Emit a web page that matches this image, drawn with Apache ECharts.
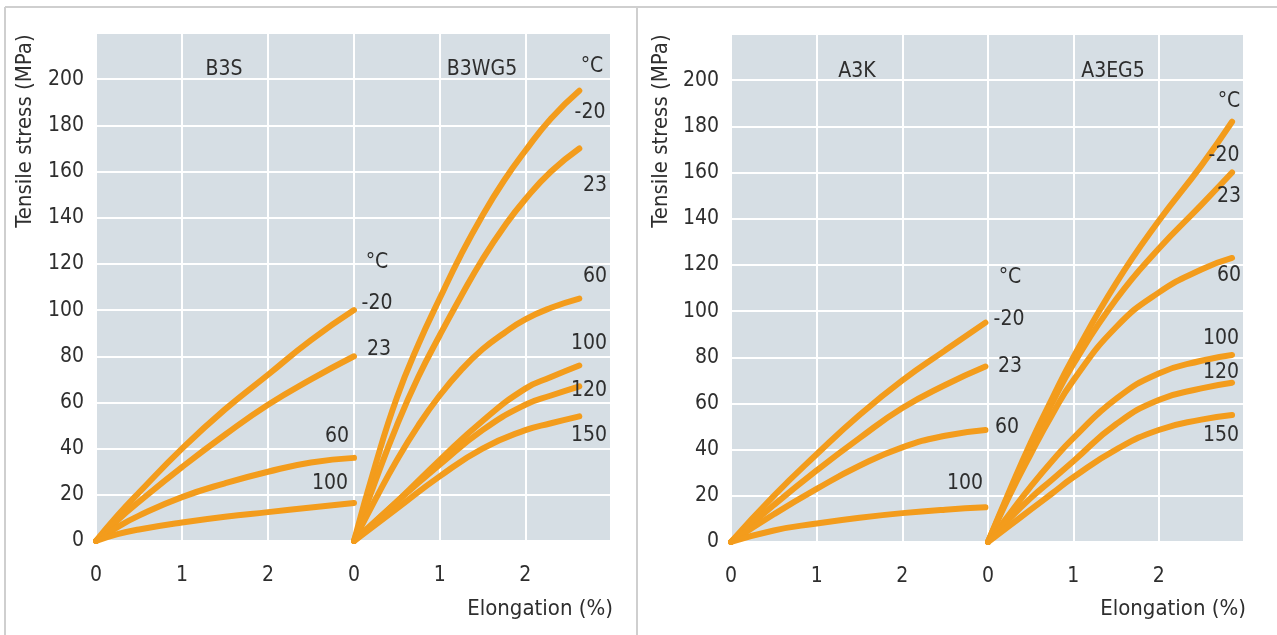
<!DOCTYPE html>
<html>
<head>
<meta charset="utf-8">
<script src="https://cdn.jsdelivr.net/npm/echarts@6/dist/echarts.min.js"></script>
<style>
html, body { margin: 0; padding: 0; background: #fff; }
#chart { width: 1277px; height: 635px; }
</style>
</head>
<body>
<div id="chart"></div>
<script>
// tick labels
const yTicks = [0, 20, 40, 60, 80, 100, 120, 140, 160, 180, 200];
const xTicks = [0, 1, 2];

// B3S
const b3sX = [0, 0.25, 0.5, 1, 1.5, 2, 2.5, 3.0];
const b3sM20 = [0, 11, 21, 40, 57, 72, 87, 100];
const b3s23 = [0, 9, 17, 32, 46, 59, 70, 80];
const b3s60 = [0, 6, 11, 19, 25, 30, 34, 36];
const b3s100 = [0, 3, 5, 8, 10.5, 12.5, 14.5, 16.5];

// B3WG5
const b3wgX = [0, 0.25, 0.5, 0.75, 1, 1.25, 1.5, 1.75, 2, 2.3, 2.63];
const b3wgM20 = [0, 33, 62, 85, 105, 124, 141, 156, 169, 183, 195];
const b3wg23 = [0, 26, 50, 71, 89, 106, 122, 136, 148, 160, 170];
const b3wg60 = [0, 18, 35, 50, 63, 74, 83, 90, 96, 101, 105];
const b3wgX2 = [0, 0.5, 1, 1.5, 2, 2.3, 2.63];
const b3wg100 = [0, 17, 35, 52, 66, 71, 76];
const b3wg120 = [0, 17, 33, 48, 59, 63, 67];
const b3wg150 = [0, 14, 28, 40, 48, 51, 54];

// A3K
const a3kX = [0, 0.5, 1, 1.5, 2, 2.5, 2.97];
const a3kM20 = [0, 20, 38, 55, 70, 83, 95];
const a3k23 = [0, 16, 31, 45, 58, 68, 76];
const a3k60 = [0, 12, 23, 33, 41, 46, 48.5];
const a3k100 = [0, 5, 8, 10.5, 12.5, 14, 15];

// A3EG5
const a3egX = [0, 0.25, 0.5, 0.75, 1, 1.5, 2, 2.5, 2.86];
const a3egM20 = [0, 22, 43, 62, 80, 112, 139, 163, 182];
const a3eg23 = [0, 21, 41, 60, 77, 105, 127, 146, 160];
const a3eg60 = [0, 20, 38, 55, 70, 93, 108, 118, 123];
const a3eg100 = [0, 12, 24, 35, 45, 62, 73, 78.5, 81];
const a3eg120 = [0, 10, 19, 27, 35, 51, 61.5, 66.5, 69];
const a3eg150 = [0, 7, 14, 21, 28, 40, 48.5, 53, 55];

const orange = '#f39c1c';
const textColor = '#2e2e2e';
const font = "'DejaVu Sans Condensed', 'Liberation Sans', sans-serif";

function pts(xs, ys) {
    return xs.map((x, i) => [x, ys[i]]);
}

const curves = [
    { grid: 0, x: b3sX, y: b3sM20 },
    { grid: 0, x: b3sX, y: b3s23 },
    { grid: 0, x: b3sX, y: b3s60 },
    { grid: 0, x: b3sX, y: b3s100 },
    { grid: 1, x: b3wgX, y: b3wgM20 },
    { grid: 1, x: b3wgX, y: b3wg23 },
    { grid: 1, x: b3wgX, y: b3wg60 },
    { grid: 1, x: b3wgX2, y: b3wg100 },
    { grid: 1, x: b3wgX2, y: b3wg120 },
    { grid: 1, x: b3wgX2, y: b3wg150 },
    { grid: 2, x: a3kX, y: a3kM20 },
    { grid: 2, x: a3kX, y: a3k23 },
    { grid: 2, x: a3kX, y: a3k60 },
    { grid: 2, x: a3kX, y: a3k100 },
    { grid: 3, x: a3egX, y: a3egM20 },
    { grid: 3, x: a3egX, y: a3eg23 },
    { grid: 3, x: a3egX, y: a3eg60 },
    { grid: 3, x: a3egX, y: a3eg100 },
    { grid: 3, x: a3egX, y: a3eg120 },
    { grid: 3, x: a3egX, y: a3eg150 }
];

// [text, x, y] annotations
const notes = [
    ['B3S', 224, 70], ['B3WG5', 482, 70], ['°C', 592, 67],
    ['°C', 377, 263], ['-20', 377, 304], ['23', 379, 350], ['60', 337, 437], ['100', 330, 484],
    ['-20', 590, 113], ['23', 595, 186], ['60', 595, 277], ['100', 589, 344], ['120', 589, 391], ['150', 589, 436],
    ['A3K', 857, 72], ['A3EG5', 1113, 72], ['°C', 1229, 102],
    ['°C', 1010, 278], ['-20', 1009, 320], ['23', 1010, 367], ['60', 1007, 428], ['100', 965, 484],
    ['-20', 1224, 156], ['23', 1229, 197], ['60', 1229, 276], ['100', 1221, 339], ['120', 1221, 373], ['150', 1221, 436]
];

const grids = [
    { left: 96, top: 33, width: 258, height: 508 },
    { left: 354, top: 33, width: 257, height: 508 },
    { left: 731, top: 34, width: 257, height: 508 },
    { left: 988, top: 34, width: 256, height: 508 }
].map(g => Object.assign(g, { show: true, backgroundColor: '#d6dee4', borderWidth: 0 }));

const xAxes = grids.map((g, i) => ({
    type: 'value', gridIndex: i, min: 0, max: 3, interval: 1,
    axisLine: { show: false }, axisTick: { show: false },
    axisLabel: {
        margin: 24, fontSize: 21, color: textColor, fontFamily: font,
        formatter: v => (xTicks.includes(v) ? String(v) : '')
    },
    splitLine: { lineStyle: { color: '#fff', width: 2 } }
}));

const yAxes = grids.map((g, i) => ({
    type: 'value', gridIndex: i, min: 0, max: 220, interval: 20,
    axisLine: { show: false }, axisTick: { show: false },
    axisLabel: {
        show: i % 2 === 0, margin: 12, fontSize: 21, color: textColor, fontFamily: font,
        formatter: v => (yTicks.includes(v) ? String(v) : '')
    },
    splitLine: { lineStyle: { color: '#fff', width: 2 } }
}));

const series = curves.map(c => ({
    type: 'line', xAxisIndex: c.grid, yAxisIndex: c.grid,
    data: pts(c.x, c.y), smooth: true, symbol: 'none',
    lineStyle: { color: orange, width: 6, cap: 'round' }
}));

const graphic = [
    { type: 'line', shape: { x1: 5, y1: 7, x2: 1277, y2: 7 }, style: { stroke: '#cfcfcf', lineWidth: 2 } },
    { type: 'line', shape: { x1: 5, y1: 7, x2: 5, y2: 635 }, style: { stroke: '#cfcfcf', lineWidth: 2 } },
    { type: 'line', shape: { x1: 637, y1: 7, x2: 637, y2: 635 }, style: { stroke: '#cfcfcf', lineWidth: 2 } },
    { type: 'text', x: 25, y: 131, rotation: Math.PI / 2,
      style: { text: 'Tensile stress (MPa)', fill: textColor, font: '22px ' + font, align: 'center', verticalAlign: 'middle' } },
    { type: 'text', x: 661, y: 131, rotation: Math.PI / 2,
      style: { text: 'Tensile stress (MPa)', fill: textColor, font: '22px ' + font, align: 'center', verticalAlign: 'middle' } },
    { type: 'text', x: 613, y: 609,
      style: { text: 'Elongation (%)', fill: textColor, font: '22px ' + font, align: 'right', verticalAlign: 'middle' } },
    { type: 'text', x: 1246, y: 609,
      style: { text: 'Elongation (%)', fill: textColor, font: '22px ' + font, align: 'right', verticalAlign: 'middle' } }
].concat(notes.map(n => ({
    type: 'text', x: n[1], y: n[2], z: 10,
    style: { text: n[0], fill: textColor, font: '21px ' + font, align: 'center', verticalAlign: 'middle' }
})));

const chart = echarts.init(document.getElementById('chart'));
chart.setOption({
    animation: false,
    backgroundColor: '#fff',
    grid: grids,
    xAxis: xAxes,
    yAxis: yAxes,
    series: series,
    graphic: graphic
});
</script>
</body>
</html>
